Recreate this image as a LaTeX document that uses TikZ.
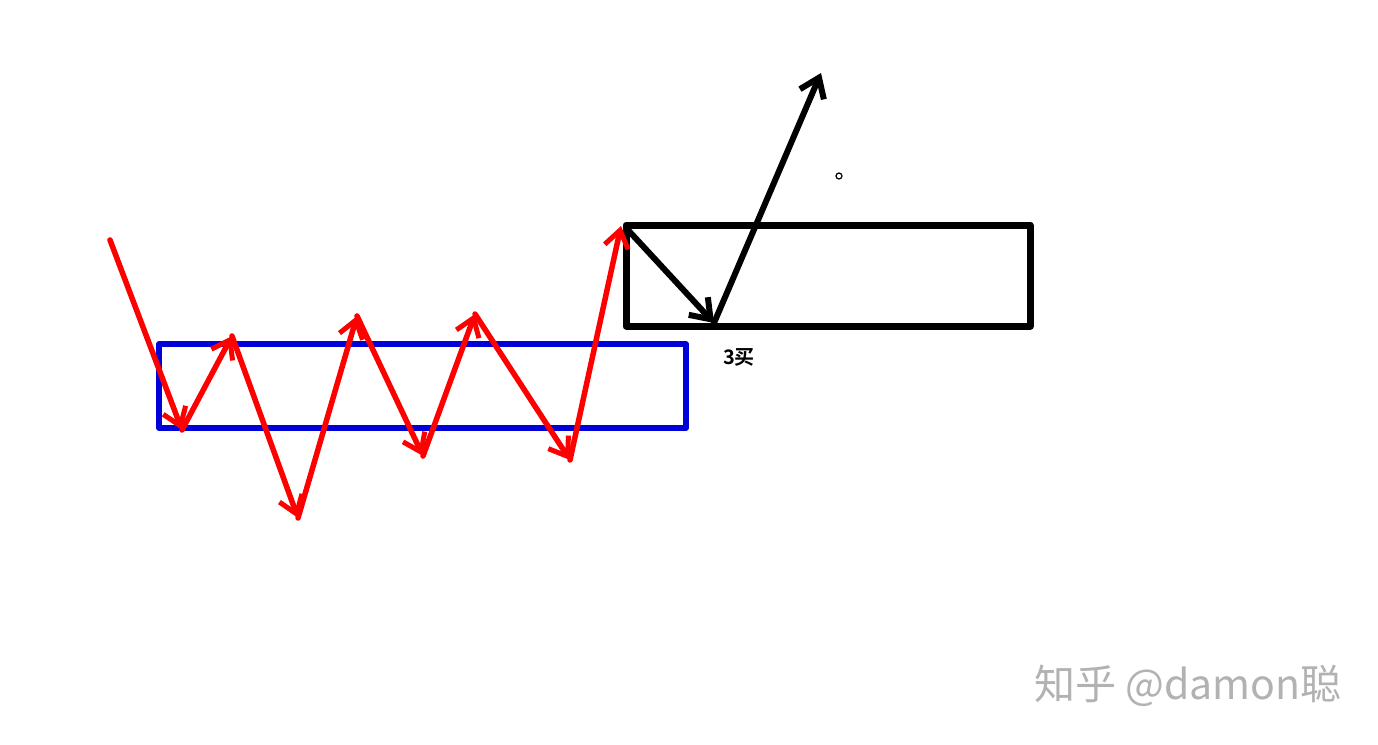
\documentclass[tikz,border=0pt]{standalone}
\usepackage{fontspec}
\newfontfamily\cjk{Noto Sans CJK SC}
\newfontfamily\cjkbold{Noto Sans CJK SC Bold}
\usetikzlibrary{arrows.meta}

\begin{document}
\begin{tikzpicture}[line cap=round,line join=round,x=1pt,y=-1pt,
    redleg/.style={-{Straight Barb[length=17pt,width=24pt,line width=5pt]},line width=5.5pt,red},
    blackleg/.style={-{Straight Barb[length=18pt,width=26pt,line width=6pt]},line width=6pt,black}]
            \useasboundingbox[fill=white] (0,0) rectangle (1378,744);
            % zhong shu (blue box) and upper box
            \draw [line width=5.5pt,blue!85!black] (159,344) rectangle (686,428);
            \draw [line width=7pt,black] (626,225) rectangle (1030,326);
            % turning points of the red move
            \coordinate (p0) at (110,240);
            \coordinate (p1) at (182,430);
            \coordinate (p2) at (232,336);
            \coordinate (p3) at (298,518);
            \coordinate (p4) at (357,316);
            \coordinate (p5) at (423,456);
            \coordinate (p6) at (475,314);
            \coordinate (p7) at (570,460);
            \coordinate (p8) at (621,226);
            \foreach \a/\b in {p0/p1,p1/p2,p2/p3,p3/p4,p4/p5,p5/p6,p6/p7,p7/p8}
                \draw [redleg] (\a) -- (\b);
            % pull back and leave
            \coordinate (q0) at (628,230);
            \coordinate (q1) at (714,323);
            \coordinate (q2) at (821,73);
            \draw [blackleg] (q0) -- (q1);
            \draw [blackleg] (q1) -- (q2);
            \node (buy) at (739,357) {\cjkbold\fontsize{20}{20}\selectfont 3买};
            \draw [line width=1.2pt] (839,176) circle (3);
            \node [text=black!30] (mark) at (1188,686) {\cjk\fontsize{41}{41}\selectfont 知乎 @damon聪};
\end{tikzpicture}
\end{document}
